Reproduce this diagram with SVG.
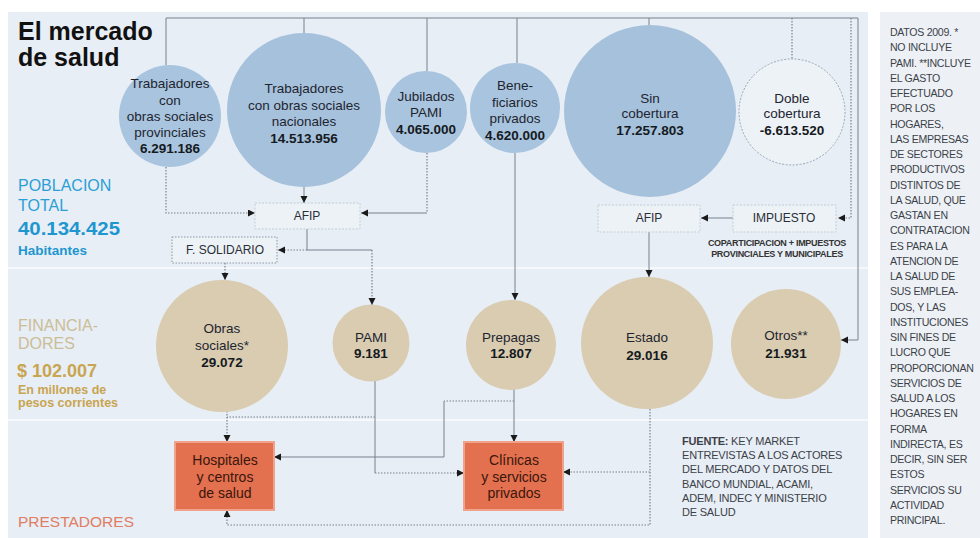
<svg xmlns="http://www.w3.org/2000/svg" width="980" height="538" viewBox="0 0 980 538">
<defs>
<marker id="ah" markerUnits="userSpaceOnUse" markerWidth="8" markerHeight="8" refX="7" refY="3.5" orient="auto">
<path d="M0,0 L7,3.5 L0,7 z" fill="#1a1a1a"/>
</marker>
<style>
text{font-family:"Liberation Sans",Arial,sans-serif;}
.ct{font-size:13.5px;fill:#1e2530;text-anchor:middle;}
.cn{font-size:13.5px;fill:#151a22;text-anchor:middle;font-weight:bold;}
.blue{fill:#a9c4de;}
.tan{fill:#d9ccb0;}
.ln{fill:none;stroke:#77828e;stroke-width:1;}
.dt{fill:none;stroke:#77828e;stroke-width:1.2;stroke-dasharray:1.5 1.5;}
.arr{marker-end:url(#ah);}
.box{fill:#edf2f7;stroke:#c3cdd8;stroke-width:1;stroke-dasharray:2 1.5;}
.bt{font-size:12px;fill:#2a2f36;text-anchor:middle;}
.prov{fill:#e3704f;stroke:#f0a38c;stroke-width:2;}
.pt{font-size:14px;fill:#3a160c;text-anchor:middle;}
.side{font-size:10.6px;fill:#3c4148;letter-spacing:-0.3px;}
.src{font-size:11px;fill:#3c4148;letter-spacing:-0.2px;}
</style>
</defs>
<rect x="0" y="0" width="980" height="538" fill="#ffffff"/>
<rect x="8" y="12" width="860" height="526" fill="#e8eef5"/>
<rect x="880" y="12" width="100" height="526" fill="#edf1f6"/>
<line x1="8" y1="268" x2="868" y2="268" stroke="#f6f9fc" stroke-width="2"/>
<line x1="8" y1="420" x2="868" y2="420" stroke="#f6f9fc" stroke-width="2"/>

<g id="title">
<text x="18" y="40" font-size="25" font-weight="bold" fill="#111">El mercado</text>
<text x="18" y="66" font-size="25" font-weight="bold" fill="#111">de salud</text>
</g>
<g id="labels">
<text x="18" y="191" font-size="16" fill="#2a9fd6">POBLACION</text>
<text x="18" y="211" font-size="16" fill="#2a9fd6">TOTAL</text>
<text x="18" y="235" font-size="18" font-weight="bold" fill="#1e96cf" textLength="102" lengthAdjust="spacingAndGlyphs">40.134.425</text>
<text x="18" y="255" font-size="13.5" font-weight="bold" fill="#1e96cf">Habitantes</text>
<text x="18" y="331" font-size="16" fill="#cbbd97">FINANCIA-</text>
<text x="18" y="349" font-size="16" fill="#cbbd97">DORES</text>
<text x="17" y="377" font-size="18" font-weight="bold" fill="#c8a550">$ 102.007</text>
<text x="18" y="394" font-size="12.5" font-weight="bold" fill="#c8a550">En millones de</text>
<text x="18" y="407" font-size="12.5" font-weight="bold" fill="#c8a550">pesos corrientes</text>
<text x="18" y="527" font-size="15.5" fill="#e07d62">PRESTADORES</text>
</g>

<g id="connectors">
<path class="ln" d="M166,65 V18 H858 V340 H841" marker-end="url(#ah)"/>
<path class="ln" d="M304,18 V33"/>
<path class="ln" d="M427,18 V71"/>
<path class="ln" d="M517,18 V63"/>
<path class="ln" d="M649,18 V25"/>
<path class="dt" d="M792,18 V59"/>
<path class="dt arr" d="M851,18 V218 H838"/>
<path class="dt arr" d="M166,167 V213 H255"/>
<path class="ln arr" d="M304,187 V203"/>
<path class="dt" d="M427,153 V213"/>
<path class="ln arr" d="M427,213 H361"/>
<path class="ln" d="M307,229 V250"/>
<path class="dt arr" d="M307,250 H278"/>
<path class="ln" d="M307,250 H372"/>
<path class="dt arr" d="M372,250 V305"/>
<path class="dt arr" d="M225,263 V280"/>
<path class="ln arr" d="M515,153 V300"/>
<path class="ln arr" d="M649,232 V277"/>
<path class="ln arr" d="M733,218 H701"/>
<path class="dt arr" d="M227,411 V442"/>
<path class="dt" d="M375,417 H227"/>
<path class="ln" d="M375,381 V473"/>
<path class="dt arr" d="M375,473 H464"/>
<path class="ln arr" d="M514,389 V442"/>
<path class="dt" d="M514,401 H444"/>
<path class="ln arr" d="M444,401 V457 H274"/>
<path class="dt arr" d="M650,409 V472 H563"/>
<path class="dt arr" d="M650,472 V525 H227 V510"/>
</g>

<g id="n-provinciales">
<circle class="blue" cx="170" cy="116" r="51"/>
<text class="ct" x="170" y="88">Trabajadores</text>
<text class="ct" x="170" y="105">con</text>
<text class="ct" x="170" y="121">obras sociales</text>
<text class="ct" x="170" y="137">provinciales</text>
<text class="cn" x="170" y="153">6.291.186</text>
</g>
<g id="n-nacionales">
<circle cx="304" cy="110" r="77" style="fill:#a6c1dc"/>
<text class="ct" x="304" y="93">Trabajadores</text>
<text class="ct" x="304" y="110">con obras sociales</text>
<text class="ct" x="304" y="126">nacionales</text>
<text class="cn" x="304" y="143">14.513.956</text>
</g>
<g id="n-jubilados">
<circle class="blue" cx="426" cy="112" r="41"/>
<text class="ct" x="426" y="101">Jubilados</text>
<text class="ct" x="426" y="117">PAMI</text>
<text class="cn" x="426" y="134">4.065.000</text>
</g>
<g id="n-beneficiarios">
<circle class="blue" cx="515" cy="108" r="45"/>
<text class="ct" x="515" y="90">Bene-</text>
<text class="ct" x="515" y="107">ficiarios</text>
<text class="ct" x="515" y="123">privados</text>
<text class="cn" x="515" y="140">4.620.000</text>
</g>
<g id="n-sincobertura">
<circle cx="650" cy="111" r="86" style="fill:#a6c1dc"/>
<text class="ct" x="650" y="103">Sin</text>
<text class="ct" x="650" y="118">cobertura</text>
<text class="cn" x="650" y="135">17.257.803</text>
</g>
<g id="n-doble">
<circle cx="792" cy="112" r="53" fill="#edf2f7" stroke="#9aa7b6" stroke-width="1" stroke-dasharray="2 1.5"/>
<text class="ct" x="792" y="103">Doble</text>
<text class="ct" x="792" y="118">cobertura</text>
<text class="cn" x="792" y="135">-6.613.520</text>
</g>

<g id="n-afip1">
<rect class="box" x="255" y="203" width="105" height="26"/>
<text class="bt" x="307" y="220">AFIP</text>
</g>
<g id="n-fsolidario">
<rect x="172" y="237" width="105" height="26" fill="#edf2f7" stroke="#8a96a3" stroke-width="1" stroke-dasharray="1.5 1.5"/>
<text class="bt" x="225" y="254">F. SOLIDARIO</text>
</g>
<g id="n-afip2">
<rect class="box" x="598" y="205" width="102" height="27"/>
<text class="bt" x="649" y="222">AFIP</text>
</g>
<g id="n-impuesto">
<rect class="box" x="733" y="205" width="103" height="27"/>
<text class="bt" x="784" y="222">IMPUESTO</text>
<text x="777" y="246" font-size="9" font-weight="bold" fill="#333" text-anchor="middle" letter-spacing="-0.3">COPARTICIPACION + IMPUESTOS</text>
<text x="777" y="257" font-size="9" font-weight="bold" fill="#333" text-anchor="middle" letter-spacing="-0.3">PROVINCIALES Y MUNICIPALES</text>
</g>

<g id="n-obras">
<circle class="tan" cx="222" cy="346" r="66"/>
<text class="ct" x="222" y="333">Obras</text>
<text class="ct" x="222" y="350">sociales*</text>
<text class="cn" x="222" y="367">29.072</text>
</g>
<g id="n-pami">
<circle class="tan" cx="371" cy="343" r="38.5"/>
<text class="ct" x="371" y="342">PAMI</text>
<text class="cn" x="371" y="358">9.181</text>
</g>
<g id="n-prepagas">
<circle class="tan" cx="511" cy="345" r="45"/>
<text class="ct" x="511" y="342">Prepagas</text>
<text class="cn" x="511" y="358">12.807</text>
</g>
<g id="n-estado">
<circle class="tan" cx="647" cy="343" r="66"/>
<text class="ct" x="647" y="342">Estado</text>
<text class="cn" x="647" y="360">29.016</text>
</g>
<g id="n-otros">
<circle class="tan" cx="786" cy="344" r="55"/>
<text class="ct" x="786" y="340">Otros**</text>
<text class="cn" x="786" y="358">21.931</text>
</g>

<g id="n-hospitales">
<rect class="prov" x="175" y="442" width="99" height="68"/>
<text class="pt" x="225" y="465">Hospitales</text>
<text class="pt" x="225" y="482">y centros</text>
<text class="pt" x="225" y="498">de salud</text>
</g>
<g id="n-clinicas">
<rect class="prov" x="464" y="442" width="99" height="68"/>
<text class="pt" x="514" y="465">Clínicas</text>
<text class="pt" x="514" y="482">y servicios</text>
<text class="pt" x="514" y="498">privados</text>
</g>

<g id="fuente">
<text class="src" x="682" y="445"><tspan font-weight="bold">FUENTE:</tspan> KEY MARKET</text>
<text class="src" x="682" y="459">ENTREVISTAS A LOS ACTORES</text>
<text class="src" x="682" y="473">DEL MERCADO Y DATOS DEL</text>
<text class="src" x="682" y="488">BANCO MUNDIAL, ACAMI,</text>
<text class="src" x="682" y="502">ADEM, INDEC Y MINISTERIO</text>
<text class="src" x="682" y="516">DE SALUD</text>
</g>

<g id="notes">
<text class="side" x="890" y="36">
<tspan x="890">DATOS 2009. *</tspan>
<tspan x="890" dy="15.25">NO INCLUYE</tspan>
<tspan x="890" dy="15.25">PAMI. **INCLUYE</tspan>
<tspan x="890" dy="15.25">EL GASTO</tspan>
<tspan x="890" dy="15.25">EFECTUADO</tspan>
<tspan x="890" dy="15.25">POR LOS</tspan>
<tspan x="890" dy="15.25">HOGARES,</tspan>
<tspan x="890" dy="15.25">LAS EMPRESAS</tspan>
<tspan x="890" dy="15.25">DE SECTORES</tspan>
<tspan x="890" dy="15.25">PRODUCTIVOS</tspan>
<tspan x="890" dy="15.25">DISTINTOS DE</tspan>
<tspan x="890" dy="15.25">LA SALUD, QUE</tspan>
<tspan x="890" dy="15.25">GASTAN EN</tspan>
<tspan x="890" dy="15.25">CONTRATACION</tspan>
<tspan x="890" dy="15.25">ES PARA LA</tspan>
<tspan x="890" dy="15.25">ATENCION DE</tspan>
<tspan x="890" dy="15.25">LA SALUD DE</tspan>
<tspan x="890" dy="15.25">SUS EMPLEA-</tspan>
<tspan x="890" dy="15.25">DOS, Y LAS</tspan>
<tspan x="890" dy="15.25">INSTITUCIONES</tspan>
<tspan x="890" dy="15.25">SIN FINES DE</tspan>
<tspan x="890" dy="15.25">LUCRO QUE</tspan>
<tspan x="890" dy="15.25">PROPORCIONAN</tspan>
<tspan x="890" dy="15.25">SERVICIOS DE</tspan>
<tspan x="890" dy="15.25">SALUD A LOS</tspan>
<tspan x="890" dy="15.25">HOGARES EN</tspan>
<tspan x="890" dy="15.25">FORMA</tspan>
<tspan x="890" dy="15.25">INDIRECTA, ES</tspan>
<tspan x="890" dy="15.25">DECIR, SIN SER</tspan>
<tspan x="890" dy="15.25">ESTOS</tspan>
<tspan x="890" dy="15.25">SERVICIOS SU</tspan>
<tspan x="890" dy="15.25">ACTIVIDAD</tspan>
<tspan x="890" dy="15.25">PRINCIPAL.</tspan>
</text>
</g>
</svg>
